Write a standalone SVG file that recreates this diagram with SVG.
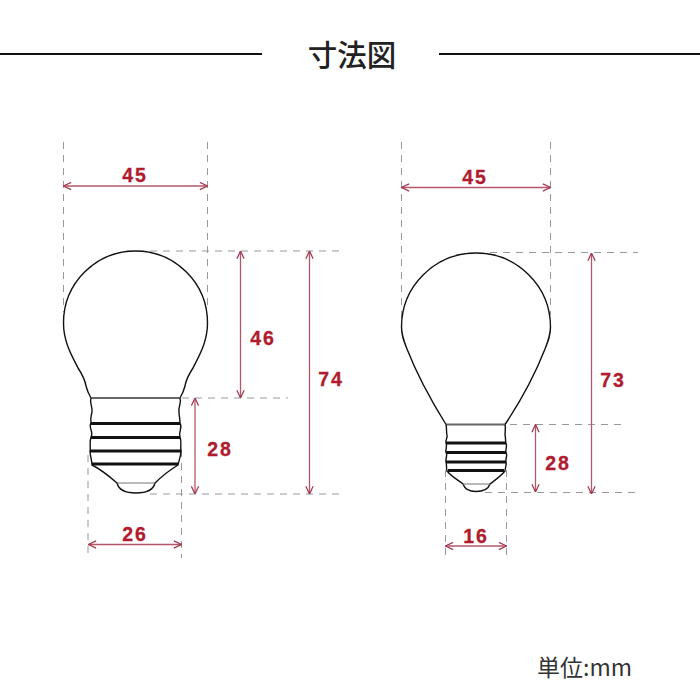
<svg xmlns="http://www.w3.org/2000/svg" width="700" height="700" viewBox="0 0 700 700">
<style>
.bulb{fill:none;stroke:#111;stroke-width:1.4}
.collar{stroke:#666;stroke-width:2;fill:none}
.ring{stroke:#111;stroke-width:3;fill:none}
.dash{stroke:#999;stroke-width:1;stroke-dasharray:7 6;fill:none}
.dim{stroke:#b4566a;stroke-width:1.3;fill:none;marker-start:url(#a);marker-end:url(#a)}
.num{font-family:"Liberation Sans",Arial,sans-serif;font-weight:700;font-size:19.5px;letter-spacing:2px;fill:#b01c2e;stroke:#b01c2e;stroke-width:.3;text-anchor:middle}
.rule{stroke:#111;stroke-width:2}
</style>
<defs>
<marker id="a" viewBox="0 0 10 10" refX="9.5" refY="5" markerWidth="9" markerHeight="9" markerUnits="userSpaceOnUse" orient="auto-start-reverse">
<path d="M1 1L9.500 5L1 9" fill="none" stroke="#a33a50" stroke-width="1.400"/>
</marker>
</defs>
<rect width="700" height="700" fill="#fff"/>
<g id="title">
<line class="rule" x1="0" y1="54" x2="262" y2="54"/>
<line class="rule" x1="439" y1="54" x2="700" y2="54"/>
<text x="352" y="66" font-family="'Noto Sans CJK JP',sans-serif" font-size="29.500" font-weight="500" fill="#222" text-anchor="middle">寸法図</text>
</g>
<g id="connectors">
<path class="dash" d="M63.500 142V312M207.500 142V308M150 251H340M182 398H288M150 494H340M88 455V558M181.500 450V558"/>
<path class="dash" d="M401.500 142V320M550.500 142V315M490 252.500H638M510 424.500H623M485 492.500H638M445.500 470V558M506.500 470V558"/>
<line class="dim" x1="63.500" y1="186" x2="207.500" y2="186"/>
<line class="dim" x1="240.500" y1="251" x2="240.500" y2="398"/>
<line class="dim" x1="309.500" y1="251" x2="309.500" y2="494"/>
<line class="dim" x1="195" y1="398" x2="195" y2="494"/>
<line class="dim" x1="88.500" y1="544.500" x2="181.500" y2="544.500"/>
<line class="dim" x1="401.500" y1="187.500" x2="550.500" y2="187.500"/>
<line class="dim" x1="591.500" y1="253" x2="591.500" y2="494"/>
<line class="dim" x1="535.500" y1="424.500" x2="535.500" y2="492"/>
<line class="dim" x1="445.500" y1="546" x2="506.500" y2="546"/>
</g>
<g id="bulb-left">
<path class="bulb" d="M91 398C88 393 87 390 86 386C85 380 82 374 78 368C72 356 63.500 342 63.500 323A72 72 0 0 1 207.500 323C207.500 342 199 356 193 368C189 374 186 380 185 386C184 390 183 393 180 398"/>
<line class="collar" x1="91" y1="398" x2="180" y2="398"/>
<path class="bulb" d="M91 398C89 403 93 407 92 412C91 417 90 419 91 423C88 427 94 432 91 437C89 443 91 447 90 451C90 456 92 460 92 465C100 469 109 476 117 483C119 491 127 493 136 493C146 493 153 491 155 483C162 476 170 470 178 465C179 460 181 456 181 451C180 446 182 442 180 437C178 432 183 428 180 423C180 418 179 416 179 412C178 406 182 403 180 398"/>
<path class="ring" d="M91 423.500H180M91 437.500H180M90 451H181M92 464H178"/>
<path d="M117 483H155" stroke="#777" stroke-width="1"/>
</g>
<g id="bulb-right">
<path class="bulb" d="M446 424.500C432 402 416 372 407 349C403.500 340 401.500 335 401.500 327A74.500 74 0 0 1 550.500 327C550.500 335 548.500 340 545 349C536 372 520 402 505 424.500"/>
<line class="collar" x1="446" y1="424.500" x2="505" y2="424.500"/>
<path class="bulb" d="M446 424.500C447 429 446 431 447 435C448 438 445 440 446 443C448 447 445 449 446 452C448 456 445 459 446 462C447 465 446 468 447 471C452 477 458 480 463 484C465 490 470 491.500 476 491.500C483 491.500 488 490 490 484C495 480 500 477 505 471C505 468 507 465 506 462C505 459 508 456 506 452C505 449 508 447 506 443C505 440 506 438 505 435C505 431 506 428 505 424.500"/>
<path class="ring" d="M446 443H506M446 452.500H506M446 462H506M448 470.500H504"/>
<path d="M463 484H490" stroke="#777" stroke-width="1"/>
</g>
<g id="labels">
<text class="num" x="135" y="182">45</text>
<text class="num" x="263" y="345">46</text>
<text class="num" x="331" y="386">74</text>
<text class="num" x="220" y="456">28</text>
<text class="num" x="135" y="541">26</text>
<text class="num" x="475" y="184">45</text>
<text class="num" x="613" y="387">73</text>
<text class="num" x="558" y="470">28</text>
<text class="num" x="476" y="543">16</text>
<text x="584.500" y="676" font-family="'Noto Sans CJK JP',sans-serif" font-size="23" font-weight="400" fill="#333" text-anchor="middle">単位:mm</text>
</g>
</svg>
